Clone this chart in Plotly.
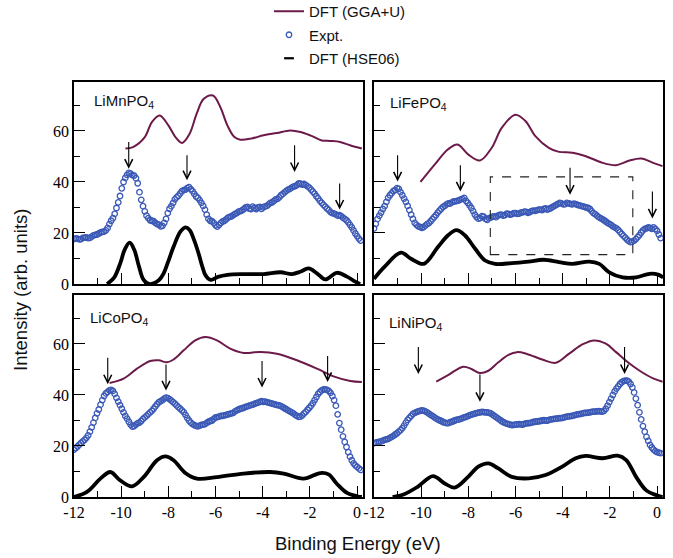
import plotly.graph_objects as go
from plotly.subplots import make_subplots

# ---------------- data ----------------
expt_energy = [
    -12.0, -11.85, -11.7, -11.55, -11.4, -11.25, -11.1, -10.95, -10.8, -10.65,
    -10.5, -10.35, -10.2, -10.05, -9.9, -9.75, -9.6, -9.45, -9.3, -9.15,
    -9.0, -8.85, -8.7, -8.55, -8.4, -8.25, -8.1, -7.95, -7.8, -7.65,
    -7.5, -7.35, -7.2, -7.05, -6.9, -6.75, -6.6, -6.45, -6.3, -6.15,
    -6.0, -5.85, -5.7, -5.55, -5.4, -5.25, -5.1, -4.95, -4.8, -4.65,
    -4.5, -4.35, -4.2, -4.05, -3.9, -3.75, -3.6, -3.45, -3.3, -3.15,
    -3.0, -2.85, -2.7, -2.55, -2.4, -2.25, -2.1, -1.95, -1.8, -1.65,
    -1.5, -1.35, -1.2, -1.05, -0.9, -0.75, -0.6, -0.45, -0.3, -0.15,
    0.0, 0.15]
expt_energy_mid = [
    -11.925, -11.775, -11.625, -11.475, -11.325, -11.175, -11.025, -10.875, -10.725, -10.575,
    -10.425, -10.275, -10.125, -9.975, -9.825, -9.675, -9.525, -9.375, -9.225, -9.075,
    -8.925, -8.775, -8.625, -8.475, -8.325, -8.175, -8.025, -7.875, -7.725, -7.575,
    -7.425, -7.275, -7.125, -6.975, -6.825, -6.675, -6.525, -6.375, -6.225, -6.075,
    -5.925, -5.775, -5.625, -5.475, -5.325, -5.175, -5.025, -4.875, -4.725, -4.575,
    -4.425, -4.275, -4.125, -3.975, -3.825, -3.675, -3.525, -3.375, -3.225, -3.075,
    -2.925, -2.775, -2.625, -2.475, -2.325, -2.175, -2.025, -1.875, -1.725, -1.575,
    -1.425, -1.275, -1.125, -0.975, -0.825, -0.675, -0.525, -0.375, -0.225, -0.075,
    0.075]

mn_expt = [
    17.6, 17.8, 17.6, 18.2, 18.0, 18.6, 19.3, 19.8, 20.4, 21.0,
    23.5, 25.8, 29.8, 34.5, 40.0, 42.8, 43.3, 42.5, 39.5, 33.0,
    28.5, 25.8, 24.8, 24.0, 23.3, 22.8, 25.5, 29.5, 31.8, 34.0,
    35.5, 36.8, 37.6, 37.2, 35.3, 33.8, 31.8, 29.2, 25.5, 24.6,
    23.0, 23.2, 24.5, 25.3, 26.3, 27.0, 27.8, 28.6, 29.4, 30.2,
    29.4, 29.8, 30.0, 29.5, 30.4, 31.2, 32.0, 33.2, 34.0, 35.3,
    36.5, 37.3, 38.2, 38.8, 39.3, 39.2, 38.3, 37.0, 35.4, 33.6,
    31.8, 30.3, 29.0, 27.8, 27.3, 27.0, 26.0, 25.0, 23.2, 21.0,
    18.8, 17.0]
mn_expt_mid = [
    17.9, 17.5, 18.1, 18.3, 18.1, 19.1, 19.4, 20.2, 20.5, 22.0,
    24.8, 27.5, 32.0, 37.5, 41.6, 43.6, 42.7, 41.5, 36.0, 30.5,
    26.8, 25.0, 24.6, 23.5, 22.6, 24.0, 27.8, 30.5, 33.2, 34.6,
    36.4, 37.0, 38.0, 36.4, 34.3, 32.9, 30.6, 27.2, 24.8, 24.0,
    22.5, 24.0, 24.8, 26.0, 26.5, 27.5, 28.4, 28.9, 30.0, 29.6,
    30.3, 29.4, 30.2, 30.1, 30.6, 31.8, 32.6, 33.4, 34.8, 35.9,
    37.0, 37.8, 38.4, 39.4, 39.0, 38.8, 37.8, 36.2, 34.4, 32.6,
    31.0, 29.6, 28.2, 27.6, 26.8, 26.6, 25.5, 24.2, 22.2, 19.8,
    17.8]
fe_expt = [
    21.8, 25.5, 28.0, 30.5, 33.8, 35.6, 36.8, 37.3, 34.8, 32.2,
    29.0, 25.5, 23.2, 22.4, 22.3, 23.5, 24.6, 26.2, 28.0, 29.5,
    30.6, 31.6, 32.0, 32.4, 32.8, 33.4, 32.6, 30.8, 28.6, 26.2,
    25.8, 26.4, 25.2, 26.0, 26.5, 26.8, 27.2, 27.0, 27.5, 27.4,
    27.8, 27.6, 28.1, 28.3, 28.2, 28.8, 28.9, 29.2, 29.4, 29.2,
    29.8, 30.6, 31.4, 31.6, 31.3, 31.6, 31.2, 31.3, 30.8, 30.4,
    30.0, 29.4, 27.8, 26.8, 25.8, 25.0, 24.0, 23.2, 22.2, 21.2,
    19.6, 18.2, 16.8, 16.6, 17.6, 19.2, 21.0, 21.8, 22.0, 22.2,
    20.8, 18.0]
fe_expt_mid = [
    23.6, 26.8, 29.4, 32.2, 34.8, 36.5, 37.6, 36.0, 33.5, 30.6,
    27.2, 24.0, 22.6, 22.0, 22.9, 23.9, 25.4, 27.0, 28.8, 30.2,
    31.2, 31.5, 32.4, 32.6, 33.2, 33.8, 31.8, 29.8, 27.2, 25.6,
    26.6, 25.5, 25.8, 26.4, 26.2, 27.1, 26.8, 27.6, 27.2, 27.8,
    27.5, 28.0, 28.4, 27.9, 28.6, 28.7, 29.2, 29.0, 29.6, 29.5,
    30.2, 31.0, 31.8, 31.2, 31.8, 31.4, 31.5, 31.0, 30.6, 30.2,
    29.8, 28.6, 27.4, 26.2, 25.4, 24.5, 23.6, 22.6, 21.8, 20.4,
    18.9, 17.4, 16.4, 17.0, 18.4, 20.2, 21.6, 22.2, 21.6, 21.6,
    19.4]
co_expt = [
    18.6, 19.8, 21.2, 22.4, 24.2, 27.3, 31.0, 34.3, 38.0, 40.6,
    41.8, 41.6, 38.9, 36.0, 33.2, 30.7, 28.4, 27.8, 29.0, 29.8,
    31.2, 32.5, 33.8, 35.5, 37.2, 38.0, 39.0, 38.4, 37.2, 35.9,
    34.6, 33.3, 31.0, 29.2, 28.2, 27.7, 28.3, 28.6, 29.5, 30.0,
    31.2, 31.5, 31.8, 32.2, 32.6, 33.0, 34.0, 34.6, 35.0, 35.5,
    36.0, 36.5, 37.0, 37.6, 37.4, 37.0, 36.6, 36.2, 35.9, 35.2,
    34.4, 33.6, 32.8, 31.8, 31.5, 32.8, 34.2, 35.8, 38.0, 40.4,
    41.8, 42.2, 41.6, 39.6, 35.8, 29.0, 23.8, 19.6, 15.8, 13.2,
    11.8, 10.6]
co_expt_mid = [
    19.2, 20.5, 21.8, 23.2, 25.6, 29.2, 32.8, 36.2, 39.6, 41.2,
    42.0, 40.4, 37.4, 34.6, 31.8, 29.5, 27.6, 28.4, 29.2, 30.6,
    31.8, 33.2, 34.6, 36.4, 37.6, 38.6, 38.8, 37.8, 36.6, 35.2,
    34.0, 32.2, 30.0, 28.6, 27.9, 28.0, 28.4, 29.1, 29.8, 30.6,
    31.3, 31.8, 32.0, 32.4, 32.8, 33.6, 34.3, 34.8, 35.3, 35.8,
    36.2, 36.8, 37.3, 37.3, 37.2, 36.8, 36.4, 36.0, 35.6, 34.8,
    34.0, 33.2, 32.2, 31.4, 32.0, 33.4, 35.0, 36.8, 39.2, 41.2,
    42.2, 42.0, 40.8, 38.0, 32.4, 26.4, 21.6, 17.6, 14.4, 12.4,
    11.2]
ni_expt = [
    21.1, 21.5, 21.8, 22.4, 22.8, 23.6, 24.5, 25.6, 27.0, 29.2,
    31.0, 32.6, 33.3, 33.8, 33.9, 33.2, 32.2, 31.3, 30.4, 29.8,
    29.2, 29.0, 29.5, 30.1, 30.4, 30.9, 31.4, 32.0, 32.5, 32.9,
    33.2, 33.3, 33.2, 32.8, 31.8, 30.8, 29.8, 29.1, 28.6, 28.2,
    28.4, 28.6, 28.4, 28.9, 29.0, 29.4, 29.6, 29.8, 30.1, 30.0,
    30.4, 30.6, 30.8, 30.9, 31.3, 31.6, 31.8, 32.2, 32.5, 32.8,
    33.0, 33.2, 33.5, 33.6, 33.6, 33.8, 35.8, 38.6, 41.4, 43.4,
    45.0, 45.6, 45.2, 43.0, 38.6, 33.2, 27.8, 23.6, 20.4, 18.6,
    17.6, 17.2]
ni_expt_mid = [
    21.3, 21.6, 22.1, 22.6, 23.2, 24.0, 25.0, 26.2, 28.0, 30.2,
    31.8, 33.0, 33.6, 34.0, 33.6, 32.7, 31.8, 30.8, 30.1, 29.4,
    29.0, 29.3, 29.8, 30.3, 30.6, 31.2, 31.7, 32.3, 32.7, 33.1,
    33.4, 33.2, 33.0, 32.3, 31.3, 30.3, 29.4, 28.8, 28.4, 28.3,
    28.5, 28.5, 28.7, 29.0, 29.2, 29.5, 29.7, 30.0, 30.0, 30.2,
    30.5, 30.7, 30.9, 31.1, 31.5, 31.7, 32.0, 32.4, 32.6, 33.0,
    33.1, 33.4, 33.5, 33.7, 33.5, 34.6, 37.2, 40.0, 42.5, 44.3,
    45.4, 45.6, 44.3, 41.0, 36.0, 30.4, 25.6, 22.0, 19.4, 18.0,
    17.4]

# DFT (GGA+U) curves
mn_gga_x = [-9.82, -9.5, -9.0, -8.7, -8.37, -8.0, -7.7, -7.42, -7.1, -6.8, -6.5, -6.11,
            -5.8, -5.5, -5.2, -4.95, -4.5, -3.96, -3.4, -2.83, -2.4, -1.99, -1.5, -1.14,
            -0.72, -0.3, 0.2]
mn_gga_y = [53.1, 53.7, 57.6, 63.5, 66.1, 62.2, 57.6, 55.3, 58.9, 66.8, 72.6, 73.9,
            69.4, 62.2, 57.6, 56.6, 57.0, 58.3, 59.2, 60.2, 59.6, 58.3, 56.3, 56.1,
            55.7, 54.4, 53.1]
fe_gga_x = [-10.03, -9.43, -8.86, -8.46, -8.01, -7.51, -7.01, -6.58, -6.01, -5.59, -5.16,
            -4.59, -4.16, -3.59, -3.02, -2.31, -1.74, -1.17, -0.67, -0.17, 0.23]
fe_gga_y = [40.0, 46.8, 52.8, 54.7, 50.8, 48.4, 53.4, 61.3, 66.4, 64.0, 58.0,
            53.4, 51.8, 51.5, 50.1, 47.5, 46.6, 48.4, 49.2, 47.5, 46.2]
co_gga_x = [-10.49, -9.9, -9.33, -8.77, -8.41, -8.06, -7.78, -7.35, -6.86, -6.43, -5.94,
            -5.38, -4.81, -4.1, -3.4, -2.55, -1.7, -1.0, -0.29, 0.2]
co_gga_y = [44.7, 46.4, 50.3, 53.3, 53.6, 52.8, 53.9, 57.5, 61.4, 62.7, 61.4,
            58.2, 56.5, 56.9, 56.2, 53.6, 50.3, 47.3, 45.5, 45.1]
ni_gga_x = [-9.36, -8.86, -8.22, -7.87, -7.51, -7.15, -6.73, -6.3, -5.94, -5.52, -4.87,
            -4.3, -3.74, -3.17, -2.67, -2.17, -1.74, -1.24, -0.74, -0.17, 0.23]
ni_gga_y = [45.2, 47.8, 51.1, 50.2, 48.6, 49.5, 52.8, 55.7, 56.8, 56.1, 53.9,
            52.6, 56.1, 59.8, 61.4, 60.1, 56.8, 52.8, 49.5, 46.5, 45.2]

# DFT (HSE06) curves
mn_hse_x = [-10.6, -10.3, -10.04, -9.85, -9.64, -9.45, -9.25, -9.05, -8.8, -8.62, -8.4,
            -8.2, -8.0, -7.78, -7.49, -7.28, -7.1, -6.9, -6.72, -6.55, -6.43, -6.2,
            -5.9, -5.5, -4.81, -3.96, -3.25, -2.76, -2.41, -2.06, -1.7, -1.35, -0.86,
            -0.43, -0.08, 0.13]
mn_hse_y = [0.0, 2.5, 8.1, 13.5, 16.2, 13.5, 7.0, 1.6, 0.0, 0.3, 1.5,
            4.2, 9.0, 14.6, 20.5, 22.2, 21.2, 17.0, 12.0, 6.5, 3.5, 1.6,
            2.8, 3.6, 3.9, 3.9, 4.6, 3.9, 4.8, 6.1, 4.2, 1.8, 4.4,
            2.9, 0.9, 0.0]
fe_hse_x = [-12.0, -11.57, -10.86, -10.43, -9.89, -9.29, -8.86, -8.51, -8.15, -7.72,
            -7.29, -6.87, -6.16, -5.45, -4.81, -4.16, -3.59, -2.88, -2.45, -2.03,
            -1.46, -0.89, -0.32, 0.04, 0.26]
fe_hse_y = [2.0, 6.6, 12.3, 9.9, 7.9, 14.5, 19.1, 21.1, 19.1, 13.9,
            9.2, 7.9, 8.2, 8.8, 9.5, 8.6, 7.9, 8.8, 7.9, 4.6,
            2.6, 2.6, 4.0, 3.7, 2.6]
co_hse_x = [-12.0, -11.45, -10.88, -10.46, -10.04, -9.54, -9.05, -8.48, -8.13, -7.78,
            -7.28, -6.79, -5.94, -4.81, -3.68, -3.11, -2.27, -1.56, -1.21, -0.86,
            -0.43, 0.0, 0.2]
co_hse_y = [0.0, 2.0, 7.2, 9.8, 6.5, 4.2, 7.8, 14.4, 15.9, 14.4,
            9.4, 7.2, 7.8, 9.2, 9.8, 9.2, 7.2, 9.4, 8.9, 5.2,
            1.6, 0.3, 0.0]
ni_hse_x = [-11.21, -10.72, -10.15, -9.5, -9.0, -8.58, -8.01, -7.58, -7.15, -6.73,
            -6.16, -5.44, -4.73, -4.02, -3.45, -3.03, -2.31, -1.67, -1.31, -0.89,
            -0.46, -0.03, 0.23]
ni_hse_y = [0.0, 1.1, 4.0, 8.2, 5.3, 3.7, 7.9, 11.9, 13.2, 11.2,
            7.9, 7.3, 8.6, 11.9, 15.2, 16.1, 15.2, 16.2, 14.5, 7.9,
            2.6, 0.7, 0.0]

# peak-marking arrows: energy, tail (top) and tip (bottom) intensity
mn_arrow_x = [-9.68, -7.21, -2.65, -0.74]
mn_arrow_top = [56.3, 51.1, 55.0, 40.0]
mn_arrow_tip = [45.2, 40.7, 43.9, 29.2]
fe_arrow_x = [-11.0, -8.34, -3.69, -0.2]
fe_arrow_top = [51.1, 47.1, 46.2, 36.9]
fe_arrow_tip = [40.2, 36.3, 35.0, 25.7]
co_arrow_x = [-10.57, -8.1, -4.03, -1.25]
co_arrow_top = [55.2, 52.5, 53.9, 55.9]
co_arrow_tip = [44.2, 41.8, 42.9, 45.1]
ni_arrow_x = [-10.12, -7.51, -1.38]
ni_arrow_top = [59.4, 48.6, 59.4]
ni_arrow_tip = [48.2, 37.3, 48.2]

# dashed box in the LiFePO4 panel: x0, x1, y0, y1
fe_box = [-7.07, -1.03, 11.5, 42.0]

x_ticks = [-12, -10, -8, -6, -4, -2, 0]
x_tick_labels = ["-12", "-10", "-8", "-6", "-4", "-2", "0"]
x_minor = [-11, -9, -7, -5, -3, -1]
y_ticks = [0, 20, 40, 60]
y_tick_labels = ["0", "20", "40", "60"]
y_minor = [10, 30, 50, 70]

panels = [
    (1, 1, "LiMnPO<sub>4</sub>", mn_expt, mn_expt_mid, mn_gga_x, mn_gga_y, mn_hse_x, mn_hse_y,
     mn_arrow_x, mn_arrow_top, mn_arrow_tip, 0.062, 0.905),
    (1, 2, "LiFePO<sub>4</sub>", fe_expt, fe_expt_mid, fe_gga_x, fe_gga_y, fe_hse_x, fe_hse_y,
     fe_arrow_x, fe_arrow_top, fe_arrow_tip, 0.050, 0.895),
    (2, 1, "LiCoPO<sub>4</sub>", co_expt, co_expt_mid, co_gga_x, co_gga_y, co_hse_x, co_hse_y,
     co_arrow_x, co_arrow_top, co_arrow_tip, 0.050, 0.885),
    (2, 2, "LiNiPO<sub>4</sub>", ni_expt, ni_expt_mid, ni_gga_x, ni_gga_y, ni_hse_x, ni_hse_y,
     ni_arrow_x, ni_arrow_top, ni_arrow_tip, 0.046, 0.858),
]

GGA_COLOR = "#6C1A49"
EXPT_COLOR = "#3A58B6"
SANS = "Liberation Sans"
SERIF = "Liberation Serif"

W, H = 673, 558
ML, MR, MT, MB = 74, 10, 82, 61
pw = W - ML - MR
ph = H - MT - MB

fig = make_subplots(rows=2, cols=2, horizontal_spacing=11 / pw, vertical_spacing=11 / ph)

for i, (r, c, label, ex, exm, gx, gy, hx, hy, axs, atop, atip, lx, ly) in enumerate(panels):
    first = i == 0
    fig.add_trace(go.Scatter(x=gx, y=gy, mode="lines", line=dict(color=GGA_COLOR, width=2, shape="spline"),
                             name="DFT (GGA+U)", legendgroup="g1", showlegend=first), row=r, col=c)
    fig.add_trace(go.Scatter(x=expt_energy + expt_energy_mid, y=ex + exm, mode="markers",
                             marker=dict(symbol="circle-open", size=5.5, color=EXPT_COLOR, line=dict(width=1.3)),
                             name="Expt.", legendgroup="g2", showlegend=first), row=r, col=c)
    fig.add_trace(go.Scatter(x=hx, y=hy, mode="lines", line=dict(color="black", width=3.8, shape="spline"),
                             name="DFT (HSE06)", legendgroup="g3", showlegend=False), row=r, col=c)
    n = "" if i == 0 else str(i + 1)
    for xa, yt, yb in zip(axs, atop, atip):
        fig.add_annotation(x=xa, y=yb, ax=xa, ay=yt, xref="x" + n, yref="y" + n,
                           axref="x" + n, ayref="y" + n, text="", showarrow=True,
                           arrowhead=5, arrowsize=1.4, arrowwidth=1.1, arrowcolor="black")
    fig.add_annotation(x=lx, y=ly, xref="x" + n + " domain", yref="y" + n + " domain",
                       text=label, showarrow=False, xanchor="left", yanchor="middle",
                       font=dict(family=SANS, size=15, color="#111"))

# legend-only glyph for HSE06
fig.add_trace(go.Scatter(x=[None], y=[None], mode="markers",
                         marker=dict(symbol="line-ew-open", size=7, color="black", line=dict(width=2.2)),
                         name="DFT (HSE06)", legendgroup="g3", showlegend=True), row=1, col=1)

fig.add_shape(type="rect", x0=fe_box[0], x1=fe_box[1], y0=fe_box[2], y1=fe_box[3],
              xref="x2", yref="y2", line=dict(color="#222", width=1.1, dash="dash"))

for r in (1, 2):
    for c in (1, 2):
        fig.update_xaxes(range=[-12, 0.25], tickvals=x_ticks, ticktext=x_tick_labels,
                         ticks="inside", ticklen=11, tickwidth=1, tickcolor="black",
                         minor=dict(tickvals=x_minor, ticks="inside", ticklen=6, tickcolor="black"),
                         showline=True, linecolor="black", linewidth=1.6, mirror=True,
                         showgrid=False, zeroline=False, showticklabels=(r == 2),
                         tickfont=dict(family=SERIF, size=16, color="black"), row=r, col=c)
        fig.update_yaxes(range=[0, 79.2], tickvals=y_ticks, ticktext=y_tick_labels,
                         ticks="inside", ticklen=11, tickwidth=1, tickcolor="black",
                         minor=dict(tickvals=y_minor, ticks="inside", ticklen=6, tickcolor="black"),
                         showline=True, linecolor="black", linewidth=1.6, mirror=True,
                         showgrid=False, zeroline=False, showticklabels=(c == 1),
                         tickfont=dict(family=SERIF, size=16, color="black"), row=r, col=c)

fig.add_annotation(x=(358 - ML) / pw, y=-(543 - (H - MB)) / ph, xref="paper", yref="paper",
                   text="Binding Energy (eV)", showarrow=False, xanchor="center", yanchor="middle",
                   font=dict(family=SANS, size=18.5, color="#111"))
fig.add_annotation(x=(20 - ML) / pw, y=((H - MB) - 290) / ph, xref="paper", yref="paper",
                   text="Intensity (arb. units)", showarrow=False, textangle=-90,
                   xanchor="center", yanchor="middle",
                   font=dict(family=SANS, size=18.5, color="#111"))

fig.update_layout(
    width=W, height=H, margin=dict(l=ML, r=MR, t=MT, b=MB, autoexpand=False),
    plot_bgcolor="white", paper_bgcolor="white",
    font=dict(family=SERIF),
    legend=dict(x=(269 - ML) / pw, y=((H - MB) + 5) / ph, xanchor="left", yanchor="top",
                font=dict(family=SANS, size=15, color="#111"), tracegroupgap=1,
                bgcolor="rgba(0,0,0,0)", itemwidth=30),
    showlegend=True,
)

fig.write_html("out.html", config={"displayModeBar": False},
               post_script="document.body.style.margin='0';")
